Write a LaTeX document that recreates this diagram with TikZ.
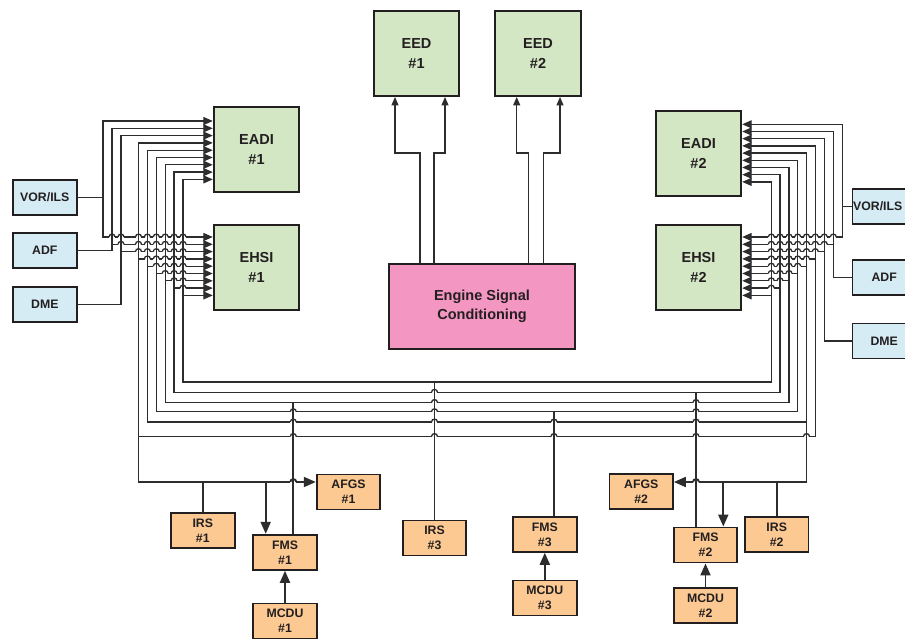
\documentclass[tikz,border=0pt]{standalone}
\usepackage{fontspec}
\setmainfont{Liberation Sans}
\usetikzlibrary{arrows.meta}
\definecolor{gfill}{RGB}{212,231,197}
\definecolor{bfill}{RGB}{213,236,245}
\definecolor{pfill}{RGB}{243,150,193}
\definecolor{ofill}{RGB}{252,201,147}
\definecolor{wirec}{RGB}{45,45,45}
\definecolor{edgec}{RGB}{35,31,32}
\tikzset{
  itip/.tip={Triangle[length=9.5pt,width=8pt]},
  etip/.tip={Triangle[length=8.5pt,width=7pt]},
  btip/.tip={Triangle[length=12pt,width=10pt]},
  wire/.style={draw=wirec,line width=1.3pt},
  heavy/.style={draw=wirec,line width=1.9pt},
  drop/.style={draw=wirec,line width=1.7pt},
  anybox/.style={draw=edgec,line width=1.9pt,align=center,inner sep=0pt,text=edgec},
  bigbox/.style={anybox,fill=gfill,minimum width=85.5pt,minimum height=85pt,
    font=\bfseries\fontsize{14.5}{19.5}\selectfont},
  escbox/.style={anybox,fill=pfill,minimum width=186.5pt,minimum height=85.5pt,
    font=\bfseries\fontsize{14.5}{18.5}\selectfont},
  smallbox/.style={anybox,minimum width=63.5pt,minimum height=35pt,
    font=\bfseries\fontsize{12.3}{15}\selectfont},
  navbox/.style={smallbox,fill=bfill},
  sysbox/.style={smallbox,fill=ofill},
}
\newcommand\hopover[4]{%
  \fill[white] ({#1-2.9},{#2-1.2}) rectangle ({#1+2.9},{#2+1.2});
  \draw[draw=wirec,line width=#3] ({#1-3},#2) .. controls ({#1-3},{#2-3.8}) and ({#1+3},{#2-3.8}) .. ({#1+3},#2);
  \draw[draw=wirec,line width=#4] (#1,{#2-1.6}) -- (#1,{#2+1.6});
}
\begin{document}
\begin{tikzpicture}[x=1pt,y=-1pt]
\useasboundingbox (0,0) rectangle (905,639);
\fill[white] (0,0) rectangle (905,639);
% ---- boxes
\node[bigbox] (eed1) at (416.5,53.5) {EED\\\#1};
\node[bigbox] (eed2) at (538,53.5) {EED\\\#2};
\node[bigbox] (eadiL) at (256.5,149.5) {EADI\\\#1};
\node[bigbox] (ehsiL) at (256.5,267.5) {EHSI\\\#1};
\node[bigbox] (eadiR) at (698.5,153.5) {EADI\\\#2};
\node[bigbox] (ehsiR) at (698.5,267.2) {EHSI\\\#2};
\node[escbox] (esc) at (482,306.5) {Engine Signal\\Conditioning};
\node[navbox] (vorL) at (44.8,197.5) {VOR/ILS};
\node[navbox] (adfL) at (44.8,250.7) {ADF};
\node[navbox] (dmeL) at (44.8,304.7) {DME};
\node[navbox] (vorR) at (884.2,206.3) {\hspace*{-13pt}VOR/ILS};
\node[navbox] (adfR) at (884.2,277.2) {ADF};
\node[navbox] (dmeR) at (884.2,341) {DME};
\node[sysbox] (afgs1) at (348.5,492) {AFGS\\\#1};
\node[sysbox] (irs1) at (202.8,530.7) {IRS\\\#1};
\node[sysbox] (fms1) at (285,552.3) {FMS\\\#1};
\node[sysbox] (mcdu1) at (285,621) {MCDU\\\#1};
\node[sysbox] (irs3) at (434.5,538) {IRS\\\#3};
\node[sysbox] (fms3) at (544.8,534.3) {FMS\\\#3};
\node[sysbox] (mcdu3) at (544.8,598) {MCDU\\\#3};
\node[sysbox] (afgs2) at (641.2,491.7) {AFGS\\\#2};
\node[sysbox] (fms2) at (705.5,545) {FMS\\\#2};
\node[sysbox] (irs2) at (776.7,534.5) {IRS\\\#2};
\node[sysbox] (mcdu2) at (705.5,605.3) {MCDU\\\#2};
% ---- engine signal conditioning to EEDs
\draw[wire,-etip] (esc.north -| 420,0) -- (420,153) -- (395,153) -- (eed1.south -| 395,0);
\draw[wire,-etip] (esc.north -| 434,0) -- (434,153) -- (445,153) -- (eed1.south -| 445,0);
\draw[wire,-etip] (esc.north -| 528.3,0) -- (528.3,153) -- (516.7,153) -- (eed2.south -| 516.7,0);
\draw[wire,-etip] (esc.north -| 543.3,0) -- (543.3,153) -- (560,153) -- (eed2.south -| 560,0);
% ---- left side channels
\draw[wire,itip-itip] (eadiL.west |- 0,121) -- (103,121) -- (103,237) -- (ehsiL.west |- 0,237);
\draw[wire] (vorL.east) -- (103,197.5);
\draw[wire,itip-] (eadiL.west |- 0,128.3) -- (112,128.3) -- (112,250.7) -- (adfL.east);
\draw[wire,itip-] (eadiL.west |- 0,135.6) -- (121,135.6) -- (121,304.7) -- (dmeL.east);
\draw[wire,itip-] (eadiL.west |- 0,142.9) -- (138.5,142.9) -- (138.5,482.8);
\draw[wire,itip-] (eadiL.west |- 0,150.2) -- (147.4,150.2) -- (147.4,422) -- (806.5,422);
\draw[wire,itip-itip] (eadiL.west |- 0,157.5) -- (156.3,157.5) -- (156.3,411.7) -- (797.7,411.7) -- (797.7,160.3) -- (eadiR.east |- 0,160.3);
\draw[wire,itip-itip] (eadiL.west |- 0,164.8) -- (165.2,164.8) -- (165.2,402.5) -- (789,402.5) -- (789,167.5) -- (eadiR.east |- 0,167.5);
\draw[wire,itip-itip] (eadiL.west |- 0,172.1) -- (174.1,172.1) -- (174.1,392.3) -- (780,392.3) -- (780,174.7) -- (eadiR.east |- 0,174.7);
\draw[wire,itip-itip] (eadiL.west |- 0,179.4) -- (183,179.4) -- (183,382) -- (771.3,382) -- (771.3,181.9) -- (eadiR.east |- 0,181.9);
\foreach \x/\y in {112/244.3,121/251.6,138.5/258.9,147.4/266.2,156.3/273.5,165.2/280.8,174.1/288.1,183/295.4}
  \draw[wire,-itip] (\x,\y) -- (ehsiL.west |- 0,\y);
% ---- right side channels
\draw[wire,itip-itip] (eadiR.east |- 0,124.3) -- (842.3,124.3) -- (842.3,237) -- (ehsiR.east |- 0,237);
\draw[wire] (vorR.west) -- (842.3,206.3);
\draw[wire,itip-] (eadiR.east |- 0,131.5) -- (833.3,131.5) -- (833.3,277.2) -- (adfR.west);
\draw[wire,itip-] (eadiR.east |- 0,138.7) -- (824.3,138.7) -- (824.3,341) -- (dmeR.west);
\draw[wire,itip-] (eadiR.east |- 0,145.9) -- (815.3,145.9) -- (815.3,436.5) -- (138.5,436.5);
\draw[wire,itip-] (eadiR.east |- 0,153.1) -- (806.5,153.1) -- (806.5,482.8);
\foreach \x/\y in {833.3/244.3,824.3/251.6,815.3/258.9,806.5/266.2,797.7/273.5,789/280.8,780/288.1,771.3/295.4}
  \draw[wire,-itip] (\x,\y) -- (ehsiR.east |- 0,\y);
% ---- lower systems
\draw[heavy,-btip] (137.9,482) -- (afgs1.west |- 0,482);
\draw[heavy] (irs1.north) -- (irs1.north |- 0,482);
\draw[heavy,-btip] (265.7,482) -- (fms1.north -| 265.7,0);
\draw[drop] (fms1.north -| 293.3,0) -- (293.3,402.5);
\draw[heavy,-btip] (mcdu1.north) -- (fms1.south);
\draw[drop] (irs3.north) -- (irs3.north |- 0,382);
\draw[drop] (fms3.north -| 554,0) -- (554,411.7);
\draw[heavy,-btip] (mcdu3.north) -- (fms3.south);
\draw[heavy,-btip] (807.1,482) -- (afgs2.east |- 0,482);
\draw[heavy] (irs2.north) -- (irs2.north |- 0,482);
\draw[heavy,-btip] (723.3,482) -- (fms2.north -| 723.3,0);
\draw[drop] (fms2.north -| 696,0) -- (696,392.3);
\draw[heavy,-btip] (mcdu2.north) -- (fms2.south);
% ---- hop-overs
\def\VL{{103,112,121,138.5,147.4,156.3,165.2,174.1,183}}
\def\VR{{842.3,833.3,824.3,815.3,806.5,797.7,789,780,771.3}}
\def\YH{{237,244.3,251.6,258.9,266.2,273.5,280.8,288.1,295.4}}
\foreach \k in {0,...,7}{
  \pgfmathtruncatemacro\kn{\k+1}
  \pgfmathsetmacro\hy{\YH[\k]}
  \foreach \j in {\kn,...,8}{
    \pgfmathsetmacro\hxl{\VL[\j]}
    \pgfmathsetmacro\hxr{\VR[\j]}
    \hopover{\hxl}{\hy}{1.3pt}{1.3pt}
    \hopover{\hxr}{\hy}{1.3pt}{1.3pt}
  }
}
\foreach \x/\y in {434.5/392.3,434.5/402.5,696/402.5,293.3/411.7,434.5/411.7,696/411.7,
  293.3/422,434.5/422,554/422,696/422,293.3/436.5,434.5/436.5,554/436.5,696/436.5}
  {\hopover{\x}{\y}{1.3pt}{1.7pt}}
\hopover{806.5}{436.5}{1.3pt}{1.3pt}
\hopover{293.3}{482}{1.9pt}{1.7pt}
\hopover{696}{482}{1.9pt}{1.7pt}
\end{tikzpicture}
\end{document}
